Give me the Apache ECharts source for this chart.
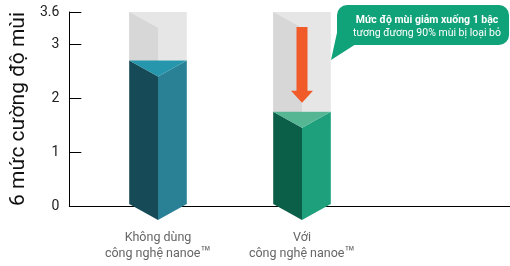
<!DOCTYPE html>
<html>
<head>
<meta charset="utf-8">
<script src="https://cdn.jsdelivr.net/npm/echarts@6/dist/echarts.min.js"></script>
</head>
<body style="margin: 0">
<div id="container" style="width: 510px; height: 266px"></div>
<script>
// data
var categories = ['Không dùng\ncông nghệ nanoe{tm|™}', 'Với\ncông nghệ nanoe{tm|™}'];
var values = [2.7, 1.75];
var yMax = 3.6;
var yTicks = [0, 1, 2, 3, 3.6];
var calloutLines = ['Mức độ mùi giảm xuống 1 bậc', 'tương đương 90% mùi bị loại bỏ'];

// face colours per bar
var faceColors = [
    {left: '#174a57', right: '#2a8196', top: '#2596ac'},
    {left: '#0b5e48', right: '#1fa07c', top: '#55b694'}
];

var myChart = echarts.init(document.getElementById('container'));

function renderPrism(params, api) {
    var i = api.value(0);
    var base = api.coord([i, 0]);
    var top = api.coord([i, api.value(1)]);
    var full = api.coord([i, yMax]);
    var hw = api.size([1, 0])[0] * 0.2;
    var d = 16;
    var xc = base[0], xl = xc - hw, xr = xc + hw;
    var y0 = base[1] - 2, yv = top[1], yt = full[1];
    var c = faceColors[i];
    var children = [
        {type: 'rect', shape: {x: xl, y: yt, width: 2 * hw, height: yv - yt}, style: {fill: '#e6e6e6'}},
        {type: 'polygon', shape: {points: [[xl, yt], [xc, yt + d], [xc, yv + d], [xl, yv]]}, style: {fill: '#d7d7d7'}},
        {type: 'polygon', shape: {points: [[xl, yv], [xc, yv + d], [xc, y0 + d], [xl, y0]]}, style: {fill: c.left}},
        {type: 'polygon', shape: {points: [[xc, yv + d], [xr, yv], [xr, y0], [xc, y0 + d]]}, style: {fill: c.right}},
        {type: 'polygon', shape: {points: [[xl, yv], [xr, yv], [xc, yv + d]]}, style: {fill: c.top}}
    ];
    // orange arrow in the second bar (drop by one level)
    if (i === 1) {
        var ys = yt + 15, ytip = yv - 9, yh = ytip - 12;
        children.push({
            type: 'polygon',
            shape: {points: [[xc - 5.5, ys], [xc + 5.5, ys], [xc + 5.5, yh], [xc + 11, yh], [xc, ytip], [xc - 11, yh], [xc - 5.5, yh]]},
            style: {fill: '#f15a29'}
        });
    }
    return {type: 'group', children: children};
}

myChart.setOption({
    animation: false,
    textStyle: {fontFamily: 'Roboto'},
    grid: [
        {left: 86, right: 136, top: 12, bottom: 60},
        {left: 65, right: 0, top: 12, bottom: 60}
    ],
    xAxis: [
        {
            type: 'category', gridIndex: 0, data: categories,
            axisLine: {show: false}, axisTick: {show: false},
            axisLabel: {
                interval: 0, color: '#666', fontSize: 12.5, lineHeight: 16, margin: 24,
                rich: {tm: {fontSize: 17, lineHeight: 16, color: '#666'}}
            }
        },
        {
            type: 'value', gridIndex: 1, min: 0, max: 1,
            axisLine: {show: true, lineStyle: {color: '#000'}},
            axisTick: {show: false}, axisLabel: {show: false}, splitLine: {show: false}
        }
    ],
    yAxis: [
        {type: 'value', gridIndex: 0, min: 0, max: yMax, show: false},
        {
            type: 'value', gridIndex: 1, min: 0, max: yMax, interval: 1,
            name: '6 mức cường độ mùi', nameLocation: 'middle', nameGap: 32,
            nameTextStyle: {fontSize: 21, color: '#111'},
            axisLine: {show: true, lineStyle: {color: '#000'}},
            axisTick: {show: true, inside: true, length: 12, customValues: yTicks, lineStyle: {color: '#000'}},
            axisLabel: {color: '#222', fontSize: 14, margin: 10, customValues: yTicks},
            splitLine: {show: false}
        }
    ],
    series: [{
        type: 'custom',
        xAxisIndex: 0, yAxisIndex: 0,
        renderItem: renderPrism,
        encode: {x: 0, y: 1},
        data: values.map(function (v, i) { return [i, v]; })
    }],
    graphic: [
        {type: 'polygon', shape: {points: [[338, 28], [356, 44], [331, 60]]}, style: {fill: '#10a278'}},
        {type: 'rect', shape: {x: 337, y: 5, width: 172, height: 40, r: 10}, style: {fill: '#10a278'}},
        {type: 'text', x: 427, y: 20, style: {text: calloutLines[0], fill: '#fff', font: 'bold 10.5px Roboto', align: 'center', verticalAlign: 'middle'}},
        {type: 'text', x: 427, y: 33, style: {text: calloutLines[1], fill: '#fff', font: '10.5px Roboto', align: 'center', verticalAlign: 'middle'}}
    ]
});
</script>
</body>
</html>
